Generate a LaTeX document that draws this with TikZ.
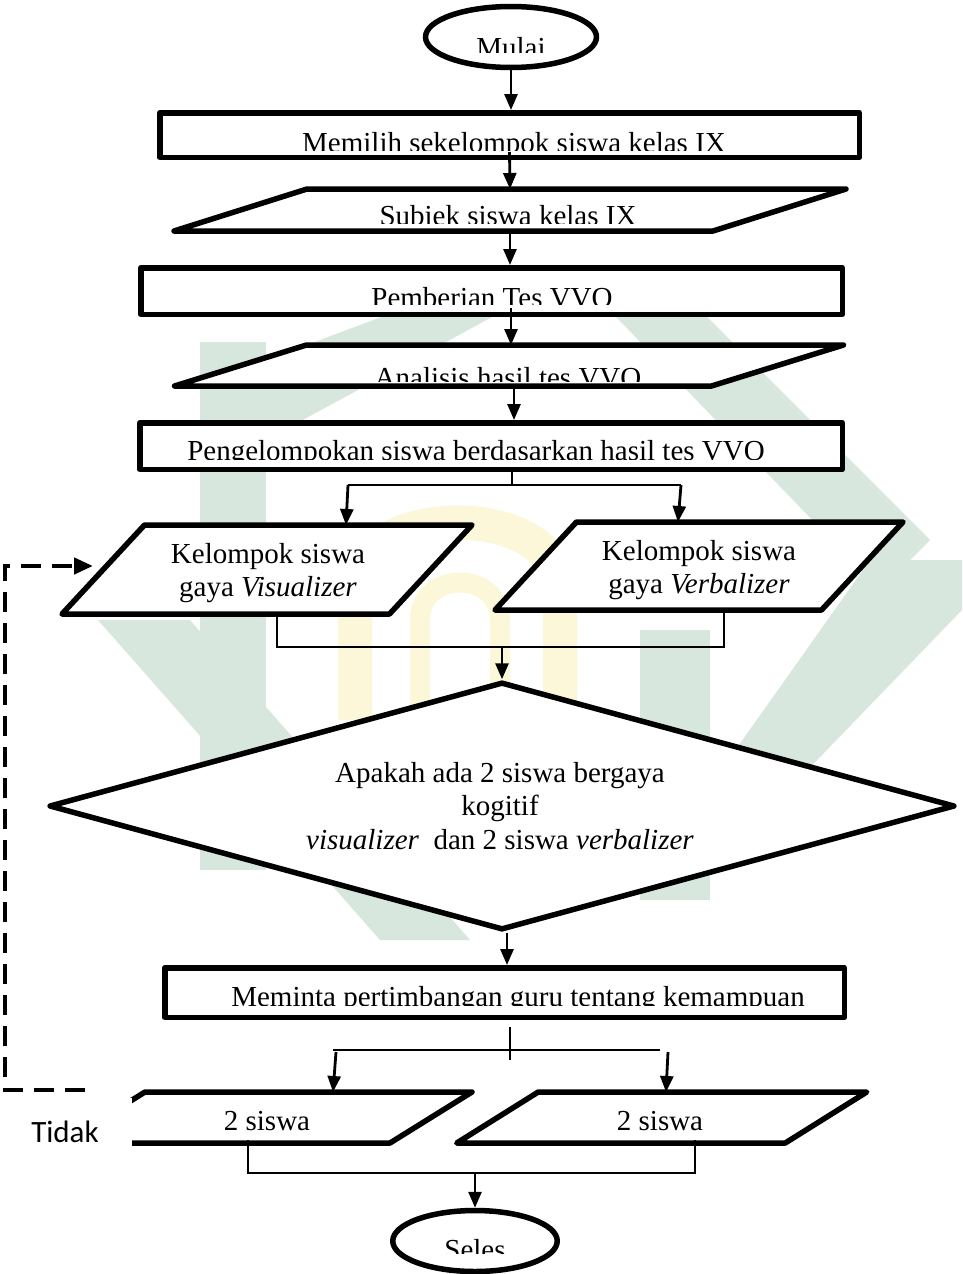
\documentclass[tikz,border=0pt]{standalone}
\usepackage{fontspec}
\setmainfont{Liberation Serif}
\newfontfamily\tidakfont{Carlito}
\usetikzlibrary{arrows.meta,shapes.geometric,calc}
\definecolor{wmgreen}{RGB}{216,231,222}
\definecolor{wmyellow}{RGB}{252,247,216}
\newcommand{\parashape}[2]{\draw[shp] ($(#1.north west)+(#2,0)$) -- ($(#1.north east)+(#2,0)$) -- ($(#1.south east)+(-#2,0)$) -- ($(#1.south west)+(-#2,0)$) -- cycle;}
\begin{document}
\begin{tikzpicture}[x=1pt,y=-1pt,
  shp/.style={draw=black,line width=5.5pt,fill=white,line join=round},
  boxshape/.style={shp,rectangle,inner sep=0pt},
  ovalshape/.style={shp,ellipse,inner sep=0pt},
  lbl/.style={inner sep=0pt,font=\fontsize{29}{33}\selectfont,anchor=base},
  arr/.style={line width=2.8pt,-{Triangle[length=16pt,width=13pt]}},
  thinln/.style={line width=1.5pt},
  dsh/.style={line width=4.5pt,dash pattern=on 20pt off 11pt,-{Triangle[length=19pt,width=16pt]}},
  holder/.style={inner sep=0pt,outer sep=0pt}
]
\useasboundingbox[fill=white] (0,0) rectangle (962,1274);

% ---- watermark (pale logo in background)
\fill[wmgreen] (200,342) rectangle (266,870);
\fill[wmgreen] (200,385) -- (480,280) -- (560,280) -- (266,440) -- cycle;
\fill[wmgreen] (590,290) -- (680,290) -- (930,540) -- (880,590) -- cycle;
\fill[wmgreen] (98,620) -- (190,620) -- (470,940) -- (380,940) -- cycle;
\fill[wmgreen] (640,630) rectangle (710,900);
\fill[wmgreen] (870,560) -- (962,560) -- (962,610) -- (740,840) -- (700,800) -- cycle;
\draw[wmyellow,line width=34pt] (355,720) -- (355,590) .. controls (355,500) and (560,500) .. (560,590) -- (560,720);
\draw[wmyellow,line width=20pt] (420,720) -- (420,620) .. controls (420,570) and (500,570) .. (500,620) -- (500,720);

% ---- shapes
\node[ovalshape,minimum width=171pt,minimum height=61pt] (mulai) at (511,37) {};
\node[boxshape,minimum width=699.5pt,minimum height=44.5pt] (b1) at (509.5,135) {};
\node[holder,minimum width=539pt,minimum height=42pt] (p1) at (510,210) {};
\parashape{p1}{66.5}
\node[boxshape,minimum width=701.5pt,minimum height=46.5pt] (b2) at (491.5,291) {};
\node[holder,minimum width=537pt,minimum height=41pt] (p2) at (509,365.5) {};
\parashape{p2}{66}
\node[boxshape,minimum width=702.5pt,minimum height=46.5pt] (b3) at (491,446) {};
\node[holder,minimum width=327.5pt,minimum height=89pt] (vis) at (267,569.5) {};
\parashape{vis}{41.25}
\node[holder,minimum width=326.5pt,minimum height=88pt] (ver) at (699,566) {};
\parashape{ver}{40.75}
\node[shp,diamond,inner sep=0pt,minimum width=906pt,minimum height=248pt] (dia) at (502,806) {};
\node[boxshape,minimum width=679.5pt,minimum height=49.5pt] (b4) at (504.5,992.5) {};
\node[holder,minimum width=327pt,minimum height=51pt] (bl) at (267.5,1117.5) {};
\parashape{bl}{41}
\node[holder,minimum width=328.5pt,minimum height=51pt] (br) at (661.75,1117.5) {};
\parashape{br}{40.75}
\node[ovalshape,minimum width=164.5pt,minimum height=61pt] (seles) at (475,1241) {};

% ---- texts (cut at the bottom as in the original)
\begin{scope}\clip (420,0) rectangle (600,52);
\node[lbl] (tmulai) at (511,57) {Mulai};\end{scope}
\begin{scope}\clip (160,112) rectangle (860,150);
\node[lbl] (tb1) at (514,152) {Memilih sekelompok siswa kelas IX};\end{scope}
\begin{scope}\clip (200,189) rectangle (840,223);
\node[lbl] (tp1) at (508,225) {Subiek siswa kelas IX};\end{scope}
\begin{scope}\clip (140,267) rectangle (843,304);
\node[lbl] (tb2) at (492,307) {Pemberian Tes VVO};\end{scope}
\begin{scope}\clip (200,345) rectangle (840,381);
\node[lbl] (tp2) at (508,387) {Analisis hasil tes VVO};\end{scope}
\begin{scope}\clip (140,422) rectangle (843,459);
\node[lbl] (tb3) at (476,460) {Pengelompokan siswa berdasarkan hasil tes VVO};\end{scope}
\node[lbl] (tvis1) at (268,563) {Kelompok siswa};
\node[lbl] (tvis2) at (268,596) {gaya \textit{Visualizer}};
\node[lbl] (tver1) at (699,560) {Kelompok siswa};
\node[lbl] (tver2) at (699,593) {gaya \textit{Verbalizer}};
\node[lbl] (td1) at (500,782) {Apakah ada 2 siswa bergaya};
\node[lbl] (td2) at (500,815) {kogitif};
\node[lbl] (td3) at (500,849) {\textit{visualizer}\ \ dan 2 siswa \textit{verbalizer}};
\begin{scope}\clip (164,967) rectangle (845,1005);
\node[lbl] (tb4) at (518,1006) {Meminta pertimbangan guru tentang kemampuan};\end{scope}
\node[lbl] (tbl) at (267,1130) {2 siswa};
\node[lbl] (tbr) at (660,1130) {2 siswa};
\begin{scope}\clip (390,1210) rectangle (560,1253);
\node[lbl] (tseles) at (475,1259) {Seles};\end{scope}

% ---- "Tidak" label box covering the left edge of the lower parallelogram
\fill[white] (0,1098) rectangle (132,1165);
\node[inner sep=0pt,anchor=base,font=\tidakfont\fontsize{31}{37}\selectfont] (tidak) at (65,1142) {Tidak};

% ---- connectors
\draw[arr] (mulai.south) -- (mulai.south |- b1.north);
\draw[arr] ([yshift=8pt]b1.south) -- (p1.north);
\draw[arr] (p1.south) -- (p1.south |- b2.north);
\draw[arr] ($(p2.north |- b2.south)+(2,-9)$) -- ($(p2.north)+(2,0)$);
\draw[arr] ($(p2.south)+(5,0)$) -- ($(p2.south |- b3.north)+(5,0)$);

\coordinate (j1) at (512,485);
\coordinate (j1l) at (348,485);
\coordinate (j1r) at (681,485);
\draw[thinln] ($(b3.south -| j1)+(0,-2)$) -- (j1);
\draw[thinln] (j1l) -- (j1r);
\draw[arr] (j1l) -- ($(j1l |- vis.north)+(-2,0)$);
\draw[arr] (j1r) -- ($(j1r |- ver.north)+(-3,0)$);

\coordinate (m2l) at (277,647);
\coordinate (m2r) at (724,647);
\draw[thinln] (m2l |- vis.south) -- (m2l) -- (m2r) -- (m2r |- ver.south);
\draw[arr] (dia.north |- m2l) -- (dia.north);

\draw[arr] ($(dia.south)+(5,0)$) -- ($(dia.south |- b4.north)+(5,0)$);

\coordinate (j3) at (510,1050);
\coordinate (j3b) at (510,1060);
\coordinate (j3l) at (333,1050);
\coordinate (j3r) at (660,1050);
\draw[thinln] ($(b4.south -| j3b)+(0,7)$) -- (j3b);
\draw[thinln] (j3l) -- (j3r);
\draw[arr] ($(j3l)+(3,2)$) -- (j3l |- bl.north);
\draw[arr] ($(j3r)+(8,2)$) -- ($(j3r |- br.north)+(6,0)$);

\coordinate (m4l) at (248,1173);
\coordinate (m4r) at (695,1173);
\draw[thinln] ($(m4l |- bl.south)+(0,-3)$) -- (m4l) -- (m4r) -- ($(m4r |- br.south)+(0,-3)$);
\draw[arr] (seles.north |- m4l) -- (seles.north);

\coordinate (dend) at (85,1090);
\coordinate (dtip) at (93,566);
\draw[dsh] (dend) -- (5,1090) -- (5,566) -- (dtip);
\end{tikzpicture}
\end{document}
